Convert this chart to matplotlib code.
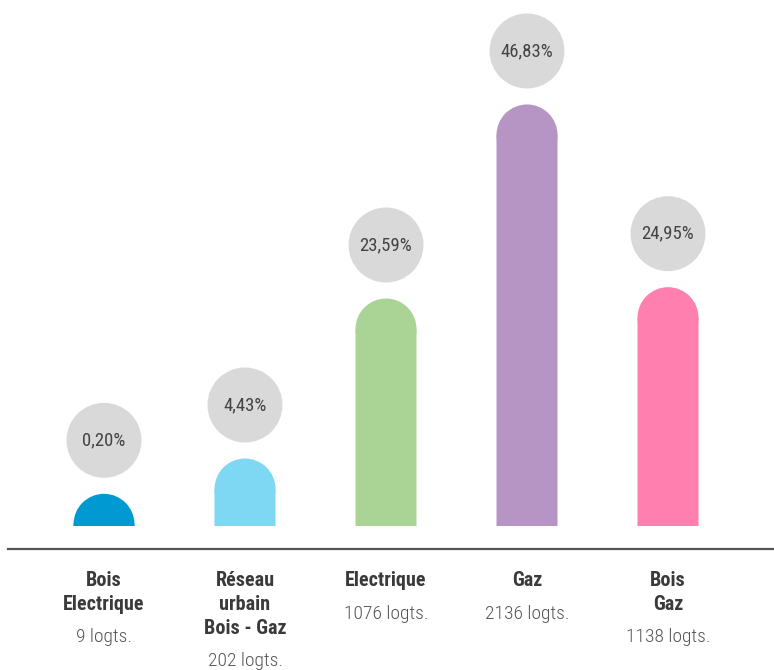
import matplotlib
matplotlib.use("Agg")
import matplotlib.pyplot as plt
from matplotlib import font_manager
from matplotlib.patches import Ellipse
from matplotlib.lines import Line2D

# ---- data ----
categories = ["Bois\nElectrique", "Réseau\nurbain\nBois - Gaz", "Electrique", "Gaz", "Bois\nGaz"]
counts = ["9 logts.", "202 logts.", "1076 logts.", "2136 logts.", "1138 logts."]
shares = [0.20, 4.43, 23.59, 46.83, 24.95]
share_labels = ["0,20%", "4,43%", "23,59%", "46,83%", "24,95%"]
colors = ["#0099D1", "#7ED8F4", "#A9D496", "#B694C4", "#FF80AE"]

# ---- font selection ----
avail = {f.name for f in font_manager.fontManager.ttflist}
fam = "Roboto"
for cand in ["Roboto Condensed", "Roboto"]:
    if cand in avail:
        fam = cand
        break
condensed = fam == "Roboto Condensed"
plt.rcParams["font.family"] = [fam, "DejaVu Sans"]
sc = 1.0 if condensed else 0.85

W, H, DPI = 774, 670, 100
fig = plt.figure(figsize=(W / DPI, H / DPI), dpi=DPI)
base_px = 526            # baseline (pixels from top)
ax = fig.add_axes([0, 1 - base_px / H, 1, base_px / H])
ax.set_axis_off()

px_per_idx = 141.0
x0_px = 104.0
px_per_pct = 8.35
ax.set_xlim(-x0_px / px_per_idx, (W - x0_px) / px_per_idx)
ax.set_ylim(0, base_px / px_per_pct)

bar_w_px = 61
cap_r_px = bar_w_px / 2
circ_r_px = 37.5
gap_px = 16

bw = bar_w_px / px_per_idx
for i, (v, c) in enumerate(zip(shares, colors)):
    bars = ax.bar(i, v, width=bw, color=c, linewidth=0)
    for b in bars:
        b.set_snap(False)
    cap = Ellipse((i, v), bw, 2 * cap_r_px / px_per_pct, color=c, linewidth=0)
    ax.add_patch(cap)
    top = v + cap_r_px / px_per_pct
    cy = top + (gap_px + circ_r_px) / px_per_pct
    circ = Ellipse((i, cy), 2 * circ_r_px / px_per_idx, 2 * circ_r_px / px_per_pct,
                   color="#D9D9D9", linewidth=0, clip_on=False)
    ax.add_patch(circ)
    ax.text(i, cy, share_labels[i], ha="center", va="center",
            fontsize=13.5 * sc, color="#444444")

# category labels below baseline
pt = 72 / DPI
first_px = 55
line_px = 23.5
count_gap = 33
for i, (cat, cnt) in enumerate(zip(categories, counts)):
    lines = cat.split("\n")
    for j, ln in enumerate(lines):
        ax.annotate(ln, xy=(i, 0), xycoords="data",
                    xytext=(0, -(first_px + j * line_px) * pt), textcoords="offset points",
                    ha="center", va="center", fontweight="bold",
                    fontsize=14.5 * sc, color="#3a3a3a", annotation_clip=False)
    yc = first_px + (len(lines) - 1) * line_px + count_gap
    ax.annotate(cnt, xy=(i, 0), xycoords="data",
                xytext=(0, -yc * pt), textcoords="offset points",
                ha="center", va="center", fontweight="light",
                fontsize=14 * sc, color="#555555", annotation_clip=False)

# horizontal axis line
fig.add_artist(Line2D([8 / W, 1], [1 - 549 / H, 1 - 549 / H], transform=fig.transFigure,
                      color="#555555", linewidth=1.6))

fig.savefig("out.png", dpi=DPI)
